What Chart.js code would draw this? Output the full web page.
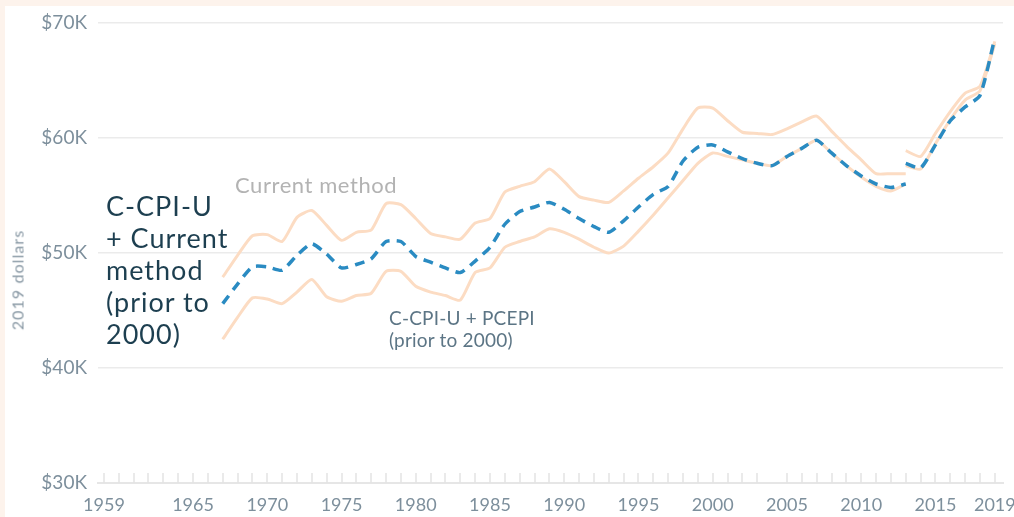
<!DOCTYPE html>
<html>
<head>
<meta charset="utf-8">
<script src="https://cdn.jsdelivr.net/npm/chart.js@4.4.1/dist/chart.umd.min.js"></script>
<style>
    html, body { margin: 0; padding: 0; }
    body {
        width: 1014px; height: 517px; position: relative; overflow: hidden;
        background: #fdf3ec; font-family: Lato, "Open Sans", sans-serif;
    }
    #panel { position: absolute; left: 5px; top: 6px; right: 0; bottom: 0; background: #ffffff; }
    #wrap { position: absolute; left: 0; top: 0; width: 1014px; height: 517px; }
    .note { position: absolute; white-space: nowrap; }
    #axisTitle {
        left: 17px; top: 280px; color: #8797a3; font-size: 16px;
        transform: translate(-50%, -50%) rotate(-90deg);
    }
    #blueNote { left: 106px; top: 190px; color: #1d3f50; font-size: 27px; line-height: 32px; letter-spacing: 1px; }
    #currentNote { left: 235px; top: 171px; color: #b3b3b3; font-size: 22px; }
    #pceNote { left: 389px; top: 307px; color: #5c7585; font-size: 19px; line-height: 22px; letter-spacing: 0.2px; }
</style>
</head>
<body>
<div id="panel"></div>
<div id="wrap"><canvas id="incomeChart"></canvas></div>
<div class="note" id="axisTitle">2019 dollars</div>
<div class="note" id="blueNote">C-CPI-U<br>+ Current<br>method<br>(prior to<br>2000)</div>
<div class="note" id="currentNote">Current method</div>
<div class="note" id="pceNote">C-CPI-U + PCEPI<br>(prior to 2000)</div>
<script>
    // years before the 2013 break
    const yearsA = [1967, 1968, 1969, 1970, 1971, 1972, 1973, 1974, 1975, 1976,
        1977, 1978, 1979, 1980, 1981, 1982, 1983, 1984, 1985, 1986,
        1987, 1988, 1989, 1990, 1991, 1992, 1993, 1994, 1995, 1996,
        1997, 1998, 1999, 2000, 2001, 2002, 2003, 2004, 2005, 2006,
        2007, 2008, 2009, 2010, 2011, 2012, 2013];
    // years after the 2013 break
    const yearsB = [2013, 2014, 2015, 2016, 2017, 2018, 2019];

    // median household income, thousands of 2019 dollars
    const currentA = [47.9, 49.8, 51.5, 51.6, 51.0, 53.1, 53.7, 52.4, 51.1, 51.8,
        52.0, 54.3, 54.2, 53.0, 51.7, 51.4, 51.2, 52.6, 53.0, 55.3,
        55.8, 56.2, 57.3, 56.2, 54.9, 54.6, 54.4, 55.4, 56.5, 57.5,
        58.7, 60.8, 62.6, 62.6, 61.5, 60.5, 60.4, 60.3, 60.8, 61.4,
        61.9, 60.6, 59.3, 58.1, 56.9, 56.9, 56.9];
    const ccpiCurrentA = [45.6, 47.3, 48.8, 48.8, 48.5, 49.8, 50.8, 49.9, 48.7, 49.0,
        49.5, 51.0, 51.0, 49.7, 49.2, 48.7, 48.3, 49.3, 50.5, 52.5,
        53.6, 54.0, 54.4, 53.8, 53.0, 52.3, 51.8, 52.8, 54.0, 55.1,
        55.8, 58.0, 59.2, 59.4, 58.8, 58.2, 57.8, 57.6, 58.4, 59.1,
        59.8, 58.7, 57.6, 56.7, 56.0, 55.7, 56.0];
    const ccpiPceA = [42.5, 44.4, 46.1, 46.0, 45.6, 46.6, 47.7, 46.2, 45.8, 46.3,
        46.5, 48.4, 48.4, 47.1, 46.6, 46.3, 45.9, 48.3, 48.7, 50.5,
        51.0, 51.4, 52.1, 51.8, 51.2, 50.5, 50.0, 50.6, 51.9, 53.3,
        54.8, 56.3, 57.8, 58.7, 58.4, 58.1, 57.8, 57.6, 58.4, 59.1,
        59.8, 58.7, 57.6, 56.6, 55.8, 55.4, 56.0];

    const currentB = [58.9, 58.4, 60.4, 62.3, 63.9, 64.5, 68.4];
    const ccpiCurrentB = [57.8, 57.4, 59.4, 61.5, 62.7, 63.7, 68.7];
    const ccpiPceB = [57.6, 57.3, 59.5, 61.6, 63.3, 64.1, 68.2];

    const xLabelYears = [1959, 1965, 1970, 1975, 1980, 1985, 1990, 1995, 2000, 2005, 2010, 2015, 2019];
    const yTicks = [30000, 40000, 50000, 60000, 70000];

    const minorYears = [];
    for (let yr = 1959; yr <= 2019; yr++) {
        if (yr !== 2004) minorYears.push(yr);
    }

    // stretch a label's letter spacing so it spans the given width
    function fitText(id, target) {
        const el = document.getElementById(id);
        const n = el.textContent.length;
        el.style.letterSpacing = ((target - el.offsetWidth) / n) + 'px';
    }
    fitText('currentNote', 162);
    fitText('axisTitle', 100);

    function toPoints(a, b) {
        const pts = yearsA.map((yr, i) => ({ x: yr, y: a[i] * 1000 }));
        pts.push({ x: 2013, y: null });
        return pts.concat(yearsB.map((yr, i) => ({ x: yr, y: b[i] * 1000 })));
    }

    const tickColor = '#7d8f9c';
    const peach = '#fcdcc3';

    const yearTicks = {
        id: 'yearTicks',
        beforeDatasetsDraw(chart) {
            const { ctx, chartArea } = chart;
            const x = chart.scales.x;
            ctx.save();
            ctx.strokeStyle = '#e3e3e3';
            ctx.lineWidth = 1.5;
            minorYears.forEach(yr => {
                const px = Math.round(x.getPixelForValue(yr));
                ctx.beginPath();
                ctx.moveTo(px, chartArea.bottom - 10);
                ctx.lineTo(px, chartArea.bottom);
                ctx.stroke();
            });
            ctx.restore();
        }
    };

    const ctx = document.getElementById('incomeChart').getContext('2d');
    new Chart(ctx, {
        type: 'line',
        data: {
            datasets: [{
                label: 'C-CPI-U + Current method (prior to 2000)',
                data: toPoints(ccpiCurrentA, ccpiCurrentB),
                borderColor: '#2a8bc2',
                borderWidth: 3.5,
                borderDash: [10, 7],
                tension: 0.2
            }, {
                label: 'Current method',
                data: toPoints(currentA, currentB),
                borderColor: peach,
                borderWidth: 3,
                tension: 0.2
            }, {
                label: 'C-CPI-U + PCEPI (prior to 2000)',
                data: toPoints(ccpiPceA, ccpiPceB),
                borderColor: peach,
                borderWidth: 3,
                tension: 0.2
            }]
        },
        options: {
            responsive: true,
            maintainAspectRatio: false,
            animation: false,
            spanGaps: false,
            layout: { padding: { top: 23, right: 11, left: 0, bottom: 0 } },
            elements: {
                point: { radius: 0, hoverRadius: 0 },
                line: { borderJoinStyle: 'round', borderCapStyle: 'butt' }
            },
            plugins: {
                legend: { display: false },
                tooltip: { enabled: false },
                title: { display: false }
            },
            scales: {
                x: {
                    type: 'linear',
                    min: 1958.6,
                    max: 2019.55,
                    afterFit: s => { s.height = 34; s.paddingLeft = 0; s.paddingRight = 0; },
                    afterBuildTicks: s => { s.ticks = xLabelYears.map(v => ({ value: v })); },
                    grid: { display: false, drawTicks: false },
                    border: { display: true, color: '#e6e6e6', width: 2 },
                    ticks: {
                        autoSkip: false,
                        maxRotation: 0,
                        padding: 11,
                        color: tickColor,
                        font: { family: 'Lato', size: 18 },
                        callback: v => String(v)
                    }
                },
                y: {
                    min: 30000,
                    max: 70000,
                    afterFit: s => { s.width = 98; },
                    afterBuildTicks: s => { s.ticks = yTicks.map(v => ({ value: v })); },
                    grid: { color: '#ebebeb', lineWidth: 1.5, drawTicks: false },
                    border: { display: false },
                    ticks: {
                        padding: 11,
                        color: tickColor,
                        font: { family: 'Lato', size: 19 },
                        callback: v => '$' + (v / 1000) + 'K'
                    }
                }
            }
        },
        plugins: [yearTicks]
    });
</script>
</body>
</html>
